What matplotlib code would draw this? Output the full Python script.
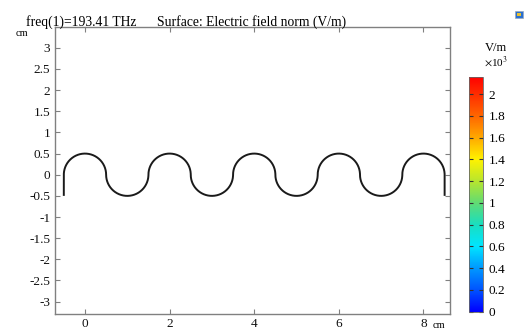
import numpy as np
import matplotlib
matplotlib.use("Agg")
import matplotlib.pyplot as plt
from matplotlib.patches import Rectangle
from matplotlib.colors import LinearSegmentedColormap, Normalize

# ---- data ----
bump_centers = [0, 1, 2, 3, 4, 5, 6, 7, 8]          # cm
bump_dirs = [1, -1, 1, -1, 1, -1, 1, -1, 1]          # +1 arc up, -1 arc down
bump_radius = 0.5                                     # cm
leg_end_y = -0.5                                      # end of straight legs, cm
x_ticks = [0, 2, 4, 6, 8]
y_ticks = [3, 2.5, 2, 1.5, 1, 0.5, 0, -0.5, -1, -1.5, -2, -2.5, -3]
cbar_ticks = [0, 0.2, 0.4, 0.6, 0.8, 1, 1.2, 1.4, 1.6, 1.8, 2]
cbar_min, cbar_max = 0.0, 2.16
title_left = "freq(1)=193.41 THz"
title_right = "Surface: Electric field norm (V/m)"

# COMSOL-like rainbow stops (value, colour)
rainbow_vals = [0.0, 0.2, 0.4, 0.6, 0.8, 1.0, 1.2, 1.4, 1.6, 1.8, 2.16]
rainbow_cols = [(0.0, 0.0, 1.0), (0.0, 0.33, 1.0), (0.0, 0.6, 1.0), (0.0, 0.9, 1.0),
                (0.1, 0.87, 0.75), (0.38, 0.86, 0.45), (0.72, 0.9, 0.18), (1.0, 0.95, 0.0),
                (1.0, 0.66, 0.0), (1.0, 0.4, 0.0), (1.0, 0.0, 0.0)]

plt.rcParams['font.family'] = ['Liberation Serif', 'DejaVu Serif']
plt.rcParams['mathtext.fontset'] = 'stix'

fig = plt.figure(figsize=(5.25, 3.31), dpi=100)
ax = fig.add_axes([54.5/525, 1-314.3/331, 395.2/525, 287.6/331])

# build meander curve from arcs
xs, ys = [], []
first = bump_centers[0] - bump_radius
xs += [first, first]; ys += [leg_end_y, 0]
for c, d in zip(bump_centers, bump_dirs):
    t = np.linspace(np.pi, 0, 60)
    xs += list(c + bump_radius*np.cos(t))
    ys += list(d*bump_radius*np.sin(t))
last = bump_centers[-1] + bump_radius
xs += [last]; ys += [leg_end_y]
ax.plot(xs, ys, color='#1a1a1a', lw=1.4, solid_capstyle='butt')

ax.set_xlim(-0.72, 8.62)
ax.set_ylim(-3.30, 3.50)
ax.set_xticks(x_ticks)
ax.set_xticklabels([str(v) for v in x_ticks])
ax.set_yticks(y_ticks)
ax.set_yticklabels([f"{v:g}" for v in y_ticks])
ax.tick_params(direction='in', length=3.5, width=0.8, color='#808080',
               top=True, right=True, labelsize=9.5, labelcolor='#111111')
ax.tick_params(axis='y', pad=3)
ax.tick_params(axis='x', pad=3)
for s in ax.spines.values():
    s.set_color('#808080'); s.set_linewidth(1.0)

fig.text(26, 331-22, title_left, transform=None, fontsize=9.8, va='center', ha='left')
fig.text(157, 331-22, title_right, transform=None, fontsize=9.8, va='center', ha='left')
fig.text(22, 331-34, "cm", transform=None, fontsize=7.5, va='center', ha='center')
fig.text(439, 331-325, "cm", transform=None, fontsize=7.5, va='center', ha='center')

# colorbar
cmap = LinearSegmentedColormap.from_list(
    'rainbow_c', [(v/rainbow_vals[-1], c) for v, c in zip(rainbow_vals, rainbow_cols)], N=512)
cax = fig.add_axes([469.3/525, 1-311.5/331, 14/525, 234.8/331])
sm = matplotlib.cm.ScalarMappable(norm=Normalize(cbar_min, cbar_max), cmap=cmap)
cb = fig.colorbar(sm, cax=cax, ticks=cbar_ticks)
cb.ax.set_yticklabels([f"{v:g}" for v in cbar_ticks])
cb.ax.tick_params(direction='in', length=3, width=0.8, color='#333333', left=True, right=True,
                  labelsize=9.5, pad=4)
cb.outline.set_linewidth(0.6)
cb.outline.set_edgecolor('#666666')
fig.text(496, 331-48, "V/m", transform=None, fontsize=9, va='center', ha='center')
fig.text(496, 331-62, r"$\times$10$^3$", transform=None, fontsize=8, va='center', ha='center')

# small icon top right
fig.patches.append(Rectangle((515, 331-18), 8, 7, transform=None, facecolor='#2a6fd0',
                             edgecolor='#9ab', lw=0.5, figure=fig))
fig.patches.append(Rectangle((517, 331-16), 4, 3, transform=None, facecolor='#e8c030',
                             edgecolor='none', figure=fig))

fig.savefig("out.png", dpi=100)
